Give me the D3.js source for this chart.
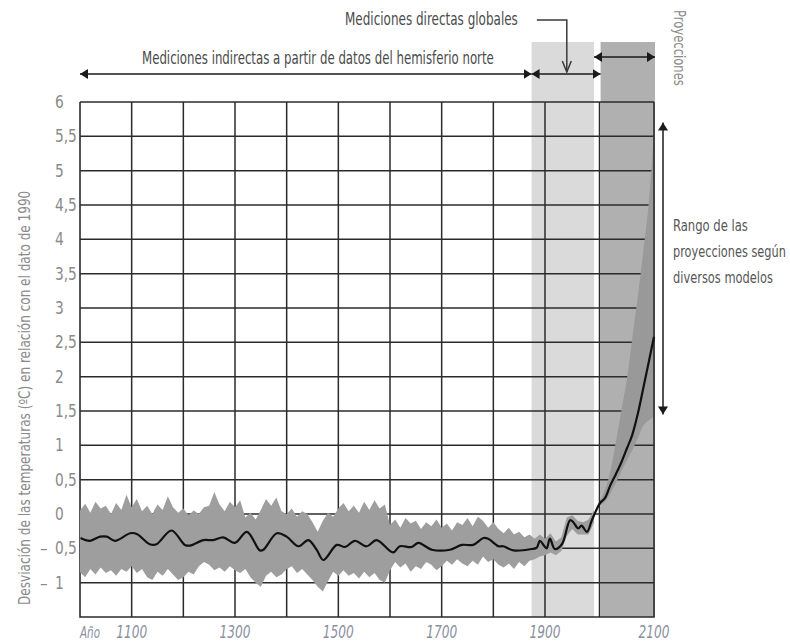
<!DOCTYPE html>
<html>
<head>
<meta charset="utf-8">
<script src="https://cdn.jsdelivr.net/npm/d3@7/dist/d3.min.js"></script>
<style>
body{margin:0;background:#fff;}
svg text{font-family:"Liberation Sans Narrow","DejaVu Sans Condensed","Roboto",sans-serif;}
</style>
</head>
<body>
<div id="canvas" class="canvas"></div>
<script>
// reconstruction + observed + projection (black line)
var lineYears = [1001,1019,1039,1052,1068,1097,1110,1135,1148,1177,1203,1213,1239,1258,1277,1300,1323,1348,1355,1381,
    1400,1423,1442,1458,1471,1497,1513,1532,1555,1574,1606,1619,1642,1655,1681,1716,1739,1761,1781,1790,
    1810,1819,1839,1874,1884,1890,1897,1903,1909,1918,1931,1946,1952,1961,1967,1977,1986,2001,2010,2020,
    2030,2040,2050,2060,2070,2080,2090,2100];
var lineTemp = [-0.35,-0.39,-0.33,-0.33,-0.39,-0.28,-0.29,-0.44,-0.44,-0.24,-0.45,-0.46,-0.38,-0.38,-0.34,-0.42,-0.26,-0.53,-0.52,-0.28,
    -0.33,-0.47,-0.38,-0.52,-0.67,-0.45,-0.48,-0.39,-0.47,-0.38,-0.56,-0.47,-0.48,-0.42,-0.52,-0.52,-0.45,-0.45,-0.35,-0.36,
    -0.47,-0.47,-0.53,-0.51,-0.49,-0.39,-0.45,-0.50,-0.36,-0.51,-0.44,-0.09,-0.12,-0.21,-0.17,-0.26,-0.09,0.16,0.23,0.42,
    0.58,0.75,0.95,1.15,1.45,1.82,2.2,2.58];

// uncertainty band of the reconstruction (grey)
var bandYears = [1000,1010,1020,1030,1040,1050,1060,1070,1080,1090,1100,1110,1120,1130,1140,1150,1160,1170,1180,1190,
    1200,1210,1220,1230,1240,1250,1260,1270,1280,1290,1300,1310,1320,1330,1340,1350,1360,1370,1380,1390,
    1400,1410,1420,1430,1440,1450,1460,1470,1480,1490,1500,1510,1520,1530,1540,1550,1560,1570,1580,1590,
    1600,1610,1620,1630,1640,1650,1660,1670,1680,1690,1700,1710,1720,1730,1740,1750,1760,1770,1780,1790,
    1800,1810,1820,1830,1840,1850,1860,1870,1880,1890,1900,1910,1920,1930,1940,1950,1960,1970,1980,1990];
var bandHigh = [0.05,0.15,0.02,0.18,0.08,0.12,0.0,0.16,0.06,0.28,
    0.1,0.22,0.04,0.12,0.0,0.14,0.06,0.26,0.1,0.02,
    0.08,-0.02,0.05,0.0,0.1,0.12,0.32,0.14,0.04,0.18,
    0.1,0.2,-0.05,0.02,-0.08,0.06,0.22,0.12,0.24,0.04,
    0.0,0.08,-0.04,0.04,0.0,-0.12,-0.26,-0.1,0.02,-0.04,
    0.08,0.16,0.04,0.12,0.02,0.18,0.06,0.2,0.08,0.14,
    -0.16,-0.08,-0.2,-0.06,-0.14,-0.1,-0.22,-0.12,-0.18,-0.08,
    -0.2,-0.14,-0.24,-0.12,-0.16,-0.06,-0.18,-0.04,-0.1,-0.2,
    -0.12,-0.22,-0.28,-0.2,-0.3,-0.26,-0.34,-0.3,-0.36,-0.3,
    -0.36,-0.28,-0.4,-0.34,-0.05,-0.02,-0.1,-0.12,-0.08,0.06];
var bandLow = [-0.85,-0.92,-0.8,-0.88,-0.78,-0.86,-0.82,-0.9,-0.8,-0.84,
    -0.76,-0.86,-0.8,-0.92,-0.96,-0.84,-0.9,-0.8,-0.88,-0.96,
    -0.92,-0.84,-0.88,-0.76,-0.7,-0.74,-0.82,-0.78,-0.84,-0.76,
    -0.82,-0.86,-0.8,-0.92,-1.0,-1.06,-0.9,-0.84,-0.92,-0.88,
    -0.8,-0.76,-0.86,-0.8,-0.88,-0.96,-1.06,-1.13,-0.98,-0.84,
    -0.9,-0.82,-0.9,-0.86,-0.94,-0.84,-0.92,-0.86,-0.96,-1.0,
    -0.82,-0.7,-0.78,-0.72,-0.84,-0.76,-0.8,-0.7,-0.74,-0.82,
    -0.76,-0.68,-0.74,-0.66,-0.72,-0.76,-0.68,-0.74,-0.62,-0.7,
    -0.66,-0.74,-0.78,-0.72,-0.8,-0.7,-0.76,-0.68,-0.66,-0.62,
    -0.6,-0.56,-0.6,-0.54,-0.32,-0.22,-0.3,-0.3,-0.3,-0.12];

// range of the model projections
var projYears = [2000,2010,2020,2030,2040,2050,2060,2070,2080,2090,2100];
var projHigh = [0.18,0.35,0.62,1.05,1.5,1.95,2.55,3.15,3.8,4.5,5.55];
var projLow = [0.14,0.18,0.3,0.45,0.62,0.78,0.93,1.1,1.28,1.36,1.42];

// periods (shaded columns / arrows)
var periodDirect = [1874, 1990];
var periodProj = [2002, 2100];

var yTicks = [-1,-0.5,0,0.5,1,1.5,2,2.5,3,3.5,4,4.5,5,5.5,6];
var xGrid = [1100,1200,1300,1400,1500,1600,1700,1800,1900,2000];
var xLabels = [1100,1300,1500,1700,1900,2100];

var m = {t:102, l:80};
var outerWidth = 790, outerHeight = 643;
var w = 574, h = 515;

var svg = d3.select('.canvas')
    .append('svg')
    .attr('width', outerWidth)
    .attr('height', outerHeight);

svg.append('rect').attr('width', outerWidth).attr('height', outerHeight).attr('fill', '#fff');

var defs = svg.append('defs');
defs.append('marker')
    .attr('id', 'head')
    .attr('viewBox', '0 -5 8 10')
    .attr('refX', 8).attr('refY', 0)
    .attr('markerWidth', 8).attr('markerHeight', 10)
    .attr('markerUnits', 'userSpaceOnUse')
    .attr('orient', 'auto-start-reverse')
    .append('path')
    .attr('d', 'M0,-5L8,0L0,5Z')
    .attr('fill', '#1a1a1a');

var plot = svg.append('g')
    .attr('transform', 'translate(' + m.l + ',' + m.t + ')');

// the drawing is not quite regular after 1900
var scaleX = d3.scaleLinear().domain([1000, 1900, 2100]).range([0, 465, 574]);
var scaleY = d3.scaleLinear().domain([-1.5, 6]).range([h, 0]);

// narrow lettering of the original: squeeze the text sideways to the width it has there
function label(x, y, rot, str, size, width, fill, anchor, italic){
    var g = plot.append('g')
        .attr('transform', 'translate(' + x + ',' + y + ')' + (rot ? ' rotate(' + rot + ')' : ''));
    var t = g.append('text')
        .attr('font-size', size)
        .attr('fill', fill)
        .attr('text-anchor', anchor || 'start')
        .attr('font-style', italic ? 'italic' : 'normal')
        .text(str);
    var len = t.node().getComputedTextLength();
    t.attr('transform', 'scale(' + (width / len).toFixed(3) + ',1)');
    return t;
}

// shaded columns
plot.append('rect')
    .attr('x', scaleX(periodDirect[0]))
    .attr('y', -60)
    .attr('width', scaleX(periodDirect[1]) - scaleX(periodDirect[0]))
    .attr('height', h + 60)
    .attr('fill', '#dadada');
plot.append('rect')
    .attr('x', scaleX(periodProj[0]))
    .attr('y', -60)
    .attr('width', scaleX(periodProj[1]) - scaleX(periodProj[0]) + 1)
    .attr('height', h + 60)
    .attr('fill', '#b0b0b0');

// grid
plot.selectAll('.hgrid')
    .data(yTicks)
    .enter()
    .append('line')
    .attr('class', 'hgrid')
    .attr('x1', 0).attr('x2', w)
    .attr('y1', function(d){ return scaleY(d); })
    .attr('y2', function(d){ return scaleY(d); })
    .attr('stroke', '#2b2b2b')
    .attr('stroke-width', 1.5);

// projection range
var projRows = projYears.map(function(d, i){ return {year:d, hi:projHigh[i], lo:projLow[i]}; });
plot.append('path')
    .datum(projRows)
    .attr('d', d3.area()
        .x(function(d){ return scaleX(d.year); })
        .y0(function(d){ return scaleY(d.lo); })
        .y1(function(d){ return scaleY(d.hi); })
        .curve(d3.curveMonotoneX))
    .attr('fill', '#999');

plot.selectAll('.vgrid')
    .data(xGrid)
    .enter()
    .append('line')
    .attr('class', 'vgrid')
    .attr('x1', function(d){ return scaleX(d); })
    .attr('x2', function(d){ return scaleX(d); })
    .attr('y1', 0).attr('y2', h)
    .attr('stroke', '#2b2b2b')
    .attr('stroke-width', 1.5);

// frame
plot.append('path')
    .attr('d', 'M0,0V' + h + 'H' + scaleX(2100) + 'V0')
    .attr('fill', 'none')
    .attr('stroke', '#2b2b2b')
    .attr('stroke-width', 1.6);

// grey uncertainty band
var bandRows = bandYears.map(function(d, i){ return {year:d, hi:bandHigh[i], lo:bandLow[i]}; });
plot.append('path')
    .datum(bandRows)
    .attr('d', d3.area()
        .x(function(d){ return scaleX(d.year); })
        .y0(function(d){ return scaleY(d.lo); })
        .y1(function(d){ return scaleY(d.hi); }))
    .attr('fill', '#9e9e9e');

// temperature line
var lineRows = lineYears.map(function(d, i){ return {year:d, t:lineTemp[i]}; });
plot.append('path')
    .datum(lineRows)
    .attr('d', d3.line()
        .x(function(d){ return scaleX(d.year); })
        .y(function(d){ return scaleY(d.t); })
        .curve(d3.curveCatmullRom))
    .attr('fill', 'none')
    .attr('stroke', '#111')
    .attr('stroke-width', 2.2);

// y labels
var yLab = plot.selectAll('.ylab')
    .data(yTicks.concat([]).reverse())
    .enter()
    .append('g')
    .attr('class', 'ylab')
    .attr('transform', function(d){ return 'translate(-25,' + (scaleY(d) + 6) + ')'; });
yLab.append('text')
    .text(function(d){ return String(Math.abs(d)).replace('.', ','); })
    .attr('font-size', 17)
    .attr('transform', 'scale(0.9,1)')
    .attr('fill', '#8a8a8a');
yLab.filter(function(d){ return d < 0; })
    .append('text')
    .attr('x', -15)
    .text('–')
    .attr('font-size', 17)
    .attr('fill', '#8a8a8a');

// x labels
xLabels.forEach(function(d){
    label(scaleX(d), h + 21, 0, String(d), 17, 31, '#8a8fa0', 'middle', true);
});
label(0, h + 21, 0, 'Año', 16, 20, '#8a8fa0', 'start', true);

// y title
label(-50, scaleY(1.75) + 4, -90,
    'Desviación de las temperaturas (ºC) en relación con el dato de 1990', 16, 415, '#8a8a8a', 'middle');

// period arrows
function arrow(x1, x2, y){
    plot.append('line')
        .attr('x1', x1).attr('x2', x2)
        .attr('y1', y).attr('y2', y)
        .attr('stroke', '#1a1a1a')
        .attr('stroke-width', 1.5)
        .attr('marker-start', 'url(#head)')
        .attr('marker-end', 'url(#head)');
}
arrow(scaleX(1000), scaleX(periodDirect[0]), -28);
arrow(scaleX(periodDirect[0]), scaleX(periodProj[0]), -28);
arrow(scaleX(periodDirect[1]), scaleX(periodProj[1]) + 1, -45);

label(62, -38, 0, 'Mediciones indirectas a partir de datos del hemisferio norte', 17, 352, '#4a4a4a');
label(265, -77, 0, 'Mediciones directas globales', 17, 173, '#4a4a4a');

var bendX = scaleX(1940);
plot.append('path')
    .attr('d', 'M' + (bendX - 30) + ',-82H' + bendX + 'V-30')
    .attr('fill', 'none')
    .attr('stroke', '#3a3a3a')
    .attr('stroke-width', 1.5);
plot.append('path')
    .attr('d', 'M' + (bendX - 4.5) + ',-41L' + bendX + ',-30L' + (bendX + 4.5) + ',-41')
    .attr('fill', 'none')
    .attr('stroke', '#3a3a3a')
    .attr('stroke-width', 1.5);

label(w + 20, -92, 90, 'Proyecciones', 15, 76, '#8a8a8a');

// range arrow
plot.append('line')
    .attr('x1', w + 9).attr('x2', w + 9)
    .attr('y1', scaleY(5.7)).attr('y2', scaleY(1.45))
    .attr('stroke', '#1a1a1a')
    .attr('stroke-width', 1.5)
    .attr('marker-start', 'url(#head)')
    .attr('marker-end', 'url(#head)');

var rangeText = ['Rango de las', 'proyecciones según', 'diversos modelos'];
var rangeLen = [75, 113, 100];
rangeText.forEach(function(d, i){
    label(w + 19, 129 + i * 26, 0, d, 16, rangeLen[i], '#555');
});
</script>
</body>
</html>
